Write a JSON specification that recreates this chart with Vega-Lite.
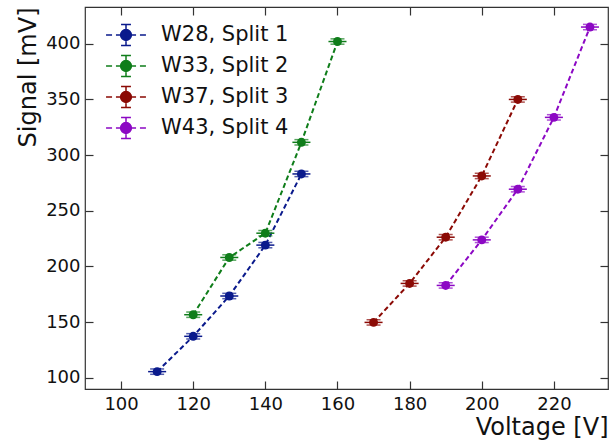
{
  "$schema": "https://vega.github.io/schema/vega-lite/v6.json",
  "width": 523,
  "height": 382,
  "autosize": {"type": "none"},
  "padding": {"left": 85, "top": 7, "right": 4, "bottom": 53},
  "background": "white",
  "config": {
    "font": "DejaVu Sans",
    "view": {"stroke": "#333", "strokeWidth": 1.2},
    "axis": {"grid": false, "domain": false, "labelFont": "DejaVu Sans", "labelFontSize": 18, "labelColor": "#111", "titleFont": "DejaVu Sans", "titleFontSize": 24, "titleFontWeight": "normal", "titleColor": "#111", "tickColor": "#333", "tickSize": -8, "tickWidth": 1.2}
  },
  "data": {"values": [
    {"s": "W28, Split 1", "v": 110, "sig": 105.6, "e": 2.4, "ex": 2.5},
    {"s": "W28, Split 1", "v": 120, "sig": 137.3, "e": 2.4, "ex": 2.5},
    {"s": "W28, Split 1", "v": 130, "sig": 173.5, "e": 2.4, "ex": 2.5},
    {"s": "W28, Split 1", "v": 140, "sig": 219.2, "e": 2.4, "ex": 2.5},
    {"s": "W28, Split 1", "v": 150, "sig": 283.1, "e": 2.4, "ex": 2.5},
    {"s": "W33, Split 2", "v": 120, "sig": 156.7, "e": 2.4, "ex": 2.5},
    {"s": "W33, Split 2", "v": 130, "sig": 208.1, "e": 2.4, "ex": 2.5},
    {"s": "W33, Split 2", "v": 140, "sig": 229.9, "e": 2.4, "ex": 2.5},
    {"s": "W33, Split 2", "v": 150, "sig": 311.5, "e": 2.4, "ex": 2.5},
    {"s": "W33, Split 2", "v": 160, "sig": 402.0, "e": 2.4, "ex": 2.5},
    {"s": "W37, Split 3", "v": 170, "sig": 149.8, "e": 2.4, "ex": 2.5},
    {"s": "W37, Split 3", "v": 180, "sig": 184.8, "e": 2.4, "ex": 2.5},
    {"s": "W37, Split 3", "v": 190, "sig": 226.3, "e": 2.4, "ex": 2.5},
    {"s": "W37, Split 3", "v": 200, "sig": 281.3, "e": 2.4, "ex": 2.5},
    {"s": "W37, Split 3", "v": 210, "sig": 350.0, "e": 2.4, "ex": 2.5},
    {"s": "W43, Split 4", "v": 190, "sig": 183.0, "e": 2.4, "ex": 2.5},
    {"s": "W43, Split 4", "v": 200, "sig": 223.9, "e": 2.4, "ex": 2.5},
    {"s": "W43, Split 4", "v": 210, "sig": 269.4, "e": 2.4, "ex": 2.5},
    {"s": "W43, Split 4", "v": 220, "sig": 333.9, "e": 2.4, "ex": 2.5},
    {"s": "W43, Split 4", "v": 230, "sig": 415.0, "e": 2.4, "ex": 2.5}
  ]},
  "resolve": {"axis": {"x": "independent", "y": "independent"}},
  "layer": [
    {
      "mark": {"type": "line", "strokeDash": [5, 3], "strokeWidth": 2},
      "encoding": {
        "x": {"field": "v", "type": "quantitative", "scale": {"domain": [90, 235], "nice": false, "zero": false},
              "axis": {"orient": "bottom", "title": "Voltage [V]", "values": [100, 120, 140, 160, 180, 200, 220], "labelPadding": 14, "titleAnchor": "end", "titlePadding": 2}},
        "y": {"field": "sig", "type": "quantitative", "scale": {"domain": [90, 433], "nice": false, "zero": false},
              "axis": {"orient": "left", "title": "Signal [mV]", "values": [100, 150, 200, 250, 300, 350, 400], "labelPadding": 13, "titleAnchor": "end", "titlePadding": 5}},
        "color": {"field": "s", "type": "nominal",
          "scale": {"domain": ["W28, Split 1", "W33, Split 2", "W37, Split 3", "W43, Split 4"], "range": ["#0a1a8c", "#0f7d1a", "#8b0a05", "#8c08c4"]},
          "legend": {
            "title": null, "orient": "none", "legendX": 25, "legendY": 12, "padding": 0,
            "symbolType": "M-1.33,0H-0.93M-0.67,0H-0.27M0.27,0H0.67M0.93,0H1.33M0,-0.7V0.7M-0.33,-0.7H0.33M-0.33,0.7H0.33M0.36,0A0.36,0.36,0,1,1,-0.36,0A0.36,0.36,0,1,1,0.36,0Z",
            "symbolSize": 900, "symbolStrokeWidth": 1.5, "labelFontSize": 21, "labelFont": "DejaVu Sans", "labelColor": "#111", "labelOffset": 19, "rowPadding": 1,
            "encode": {"symbols": {"update": {"fill": {"signal": "scale('color', datum.value)"}, "stroke": {"signal": "scale('color', datum.value)"}, "strokeDash": {"value": []}, "opacity": {"value": 1}, "fillOpacity": {"value": 1}}}}
          }
        },
        "detail": {"field": "s"}
      }
    },
    {
      "mark": {"type": "errorbar", "ticks": {"size": 14, "thickness": 1.5}, "thickness": 1.5},
      "encoding": {
        "x": {"field": "v", "type": "quantitative", "axis": {"orient": "top", "labels": false, "title": null, "values": [100, 120, 140, 160, 180, 200, 220]}},
        "y": {"field": "sig", "type": "quantitative", "axis": {"orient": "right", "labels": false, "title": null, "values": [100, 150, 200, 250, 300, 350, 400]}},
        "yError": {"field": "e"},
        "color": {"field": "s", "type": "nominal"}
      }
    },
    {
      "mark": {"type": "errorbar", "thickness": 1.5},
      "encoding": {
        "x": {"field": "v", "type": "quantitative", "axis": null},
        "xError": {"field": "ex"},
        "y": {"field": "sig", "type": "quantitative", "axis": null},
        "color": {"field": "s", "type": "nominal"}
      }
    },
    {
      "mark": {"type": "point", "filled": true, "opacity": 1, "size": 80},
      "encoding": {
        "x": {"field": "v", "type": "quantitative", "axis": null},
        "y": {"field": "sig", "type": "quantitative", "axis": null},
        "color": {"field": "s", "type": "nominal"}
      }
    }
  ]
}
